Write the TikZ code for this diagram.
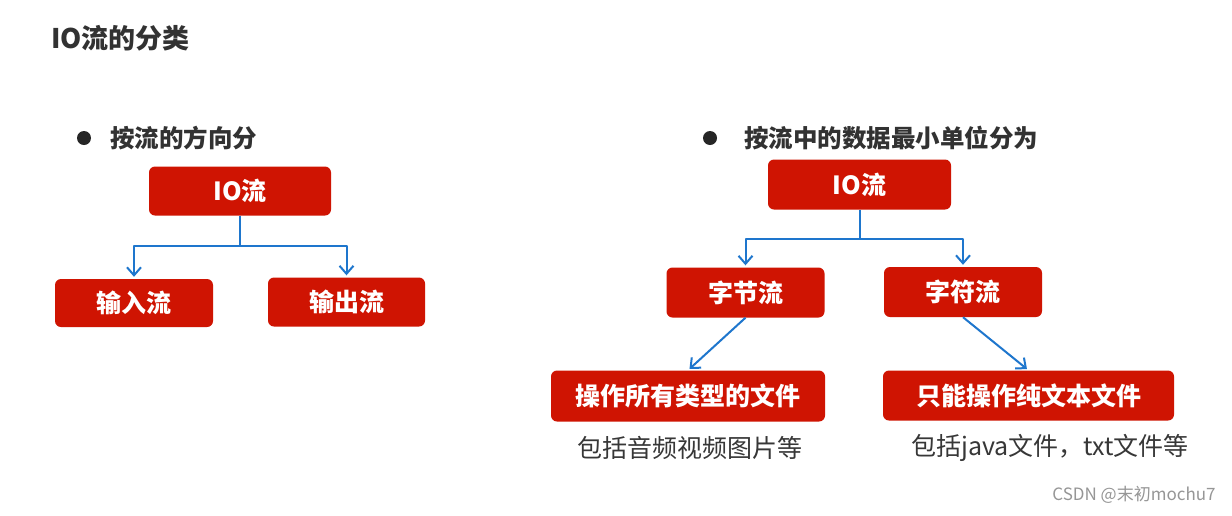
\documentclass[tikz,border=0pt]{standalone}
\usepackage{fontspec}
\setmainfont{Noto Sans CJK SC}
\usetikzlibrary{arrows.meta}
\definecolor{boxred}{RGB}{207,20,2}
\definecolor{linkblue}{RGB}{30,118,205}
\definecolor{inkgray}{RGB}{50,50,50}
\definecolor{notegray}{RGB}{55,55,55}
\definecolor{markgray}{RGB}{150,150,150}
\begin{document}
\begin{tikzpicture}[x=1pt,y=-1pt,
  redbox/.style={fill=boxred, rounded corners=6pt, text=white, inner sep=0pt,
    font=\bfseries\fontsize{25}{28}\selectfont},
  link/.style={draw=linkblue, line width=2pt, line join=round,
    -{Straight Barb[length=8pt,width=14pt,line width=2pt]}, shorten >=2pt},
  heading/.style={text=inkgray, inner sep=0pt, anchor=west,
    font=\bfseries\fontsize{24.5}{28}\selectfont},
  note/.style={text=notegray, inner sep=0pt, font=\fontsize{25}{28}\selectfont},
  dot/.style={fill=black!85}
]
\useasboundingbox[fill=white] (0,0) rectangle (1232,515);

% title
\node[heading, font=\bfseries\fontsize{27}{30}\selectfont] (title) at (51,38) {IO流的分类};

% left part
\fill[dot] (84,138) circle (7);
\node[heading] (hl) at (110,138) {按流的方向分};
\node[redbox, minimum width=182pt, minimum height=49pt] (io1) at (240,191) {IO流};
\node[redbox, minimum width=158pt, minimum height=48pt] (in) at (134,303) {输入流};
\node[redbox, minimum width=157pt, minimum height=49pt] (out) at (346.5,302) {输出流};
\draw[link] (io1.south) -- ++(0,30) -| (in.north);
\draw[link] (io1.south) -- ++(0,30) -| (out.north);

% right part
\fill[dot] (710,138) circle (7);
\node[heading] (hr) at (744,138) {按流中的数据最小单位分为};
\node[redbox, minimum width=183pt, minimum height=50pt] (io2) at (859.5,184.5) {IO流};
\node[redbox, minimum width=158pt, minimum height=50pt] (byte) at (745.5,292.5) {字节流};
\node[redbox, minimum width=158pt, minimum height=50pt] (char) at (963,292) {字符流};
\draw[link] (io2.south) -- ++(0,29) -| (byte.north);
\draw[link] (io2.south) -- ++(0,29) -| (char.north);

\node[redbox, minimum width=274pt, minimum height=51pt] (all) at (688,396) {操作所有类型的文件};
\node[redbox, minimum width=291pt, minimum height=50pt] (txt) at (1028.5,395.5) {只能操作纯文本文件};
\draw[link] (byte.south) -- (all.north);
\draw[link] (char.south) -- (txt.north);

\node[note] (n1) at (690,448) {包括音频视频图片等};
\node[note] (n2) at (1050,448) {包括java文件，txt文件等};

% watermark
\node[text=markgray, inner sep=0pt, font=\fontsize{17}{19}\selectfont] (wm) at (1134,495) {CSDN @末初mochu7};
\end{tikzpicture}
\end{document}
